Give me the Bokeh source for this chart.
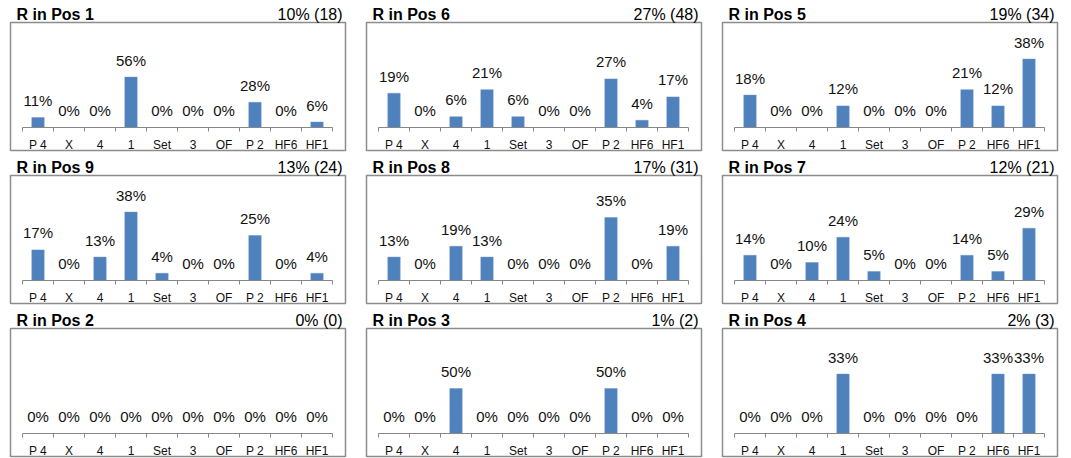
from bokeh.plotting import figure
from bokeh.models import (ColumnDataSource, LinearAxis, FixedTicker, Range1d, Label)
from bokeh.layouts import column, row
from bokeh.embed import file_html
from bokeh.resources import INLINE
from bokeh.core.properties import value

# ---------------- data ----------------
categories = ["P 4", "X", "4", "1", "Set", "3", "OF", "P 2", "HF6", "HF1"]

panel_titles = ["R in Pos 1", "R in Pos 6", "R in Pos 5",
                "R in Pos 9", "R in Pos 8", "R in Pos 7",
                "R in Pos 2", "R in Pos 3", "R in Pos 4"]
panel_totals = ["10% (18)", "27% (48)", "19% (34)",
                "13% (24)", "17% (31)", "12% (21)",
                "0% (0)", "1% (2)", "2% (3)"]

pos1 = [11, 0, 0, 56, 0, 0, 0, 28, 0, 6]
pos6 = [19, 0, 6, 21, 6, 0, 0, 27, 4, 17]
pos5 = [18, 0, 0, 12, 0, 0, 0, 21, 12, 38]
pos9 = [17, 0, 13, 38, 4, 0, 0, 25, 0, 4]
pos8 = [13, 0, 19, 13, 0, 0, 0, 35, 0, 19]
pos7 = [14, 0, 10, 24, 5, 0, 0, 14, 5, 29]
pos2 = [0, 0, 0, 0, 0, 0, 0, 0, 0, 0]
pos3 = [0, 0, 50, 0, 0, 0, 0, 50, 0, 0]
pos4 = [0, 0, 0, 33, 0, 0, 0, 0, 33, 33]
panel_values = [pos1, pos6, pos5, pos9, pos8, pos7, pos2, pos3, pos4]

# axis maxima (percent) of each small chart
axis_max = [80, 40, 40, 40, 40, 40, 100, 80, 40]

# ---------------- style / geometry (pixels) ----------------
FONT = "Liberation Sans"
BAR = "#4F81BD"
GREY = "#878787"
BOX_GREY = "#8c8c8c"
col_w = [356, 356, 359]
row_h = [153, 153, 152]
BOX_L, BOX_W = 10, 335          # box inside each panel
BOX_T, BOX_H = 22, 128
BASE_Y = 127                    # baseline, px from panel top
SCALE_PX = 72                   # px for axis max
AX_L = BOX_L + 12               # start of category axis
CAT_W = 31.0                    # px per category
TITLE_Y = 14

n = len(categories)
centers = [i + 0.5 for i in range(n)]
bounds = [float(i) for i in range(n + 1)]


def make_panel(k):
    c, r = k % 3, k // 3
    W, H = col_w[c], row_h[r]
    vals = panel_values[k]
    per_px = axis_max[k] / SCALE_PX
    x0 = -AX_L / CAT_W
    x1 = x0 + W / CAT_W
    y1 = BASE_Y * per_px
    y0 = y1 - H * per_px

    def dx(px):
        return x0 + px / CAT_W

    def dy(py):  # py measured from panel top
        return y1 - py * per_px

    p = figure(width=W, height=H, output_backend="svg", title=None,
               toolbar_location=None, x_axis_location=None, y_axis_location=None,
               x_range=Range1d(x0, x1), y_range=Range1d(y0, y1),
               min_border_left=0, min_border_right=0,
               min_border_top=0, min_border_bottom=0)
    p.grid.visible = False
    p.outline_line_color = None
    p.background_fill_color = "white"
    p.border_fill_color = "white"

    # panel frame (chart-area border)
    p.quad(left=[dx(BOX_L)], right=[dx(BOX_L + BOX_W)],
           top=[dy(BOX_T)], bottom=[dy(BOX_T + BOX_H)],
           fill_color=None, line_color=BOX_GREY, line_width=1.5)

    src = ColumnDataSource(dict(x=centers, top=vals,
                                lab=[f"{v}%" for v in vals]))
    p.vbar(x="x", top="top", width=0.4, source=src, fill_color=BAR,
           line_color="#6d95c8", line_width=0.5)
    p.text(x="x", y="top", text="lab", source=src, text_align="center",
           text_baseline="middle", y_offset=-17, text_font=value(FONT),
           text_font_size="15px", text_color="#111111")

    ax = LinearAxis(fixed_location=0, bounds=(0, n))
    ax.ticker = FixedTicker(ticks=centers, minor_ticks=bounds)
    ax.major_label_overrides = {cx: lab for cx, lab in zip(centers, categories)}
    ax.axis_line_color = GREY
    ax.axis_line_width = 1
    ax.major_tick_in = 0
    ax.major_tick_out = 0
    ax.minor_tick_in = 0
    ax.minor_tick_out = 4
    ax.minor_tick_line_color = GREY
    ax.major_label_standoff = 6
    ax.major_label_text_font = FONT
    ax.major_label_text_font_size = "12px"
    ax.major_label_text_color = "#111111"
    p.add_layout(ax, "below")

    p.add_layout(Label(x=dx(BOX_L + 6), y=dy(TITLE_Y),
                       text=panel_titles[k], text_font=FONT, text_font_size="16px",
                       text_font_style="bold", text_baseline="middle",
                       text_align="left", text_color="#000000"))
    p.add_layout(Label(x=dx(BOX_L + BOX_W - 3), y=dy(TITLE_Y),
                       text=panel_totals[k], text_font=FONT, text_font_size="16px",
                       text_baseline="middle", text_align="right",
                       text_color="#000000"))
    return p


panels = [make_panel(k) for k in range(9)]
layout = column(row(panels[0:3]), row(panels[3:6]), row(panels[6:9]))

open("out.html", "w").write(file_html(layout, INLINE))
